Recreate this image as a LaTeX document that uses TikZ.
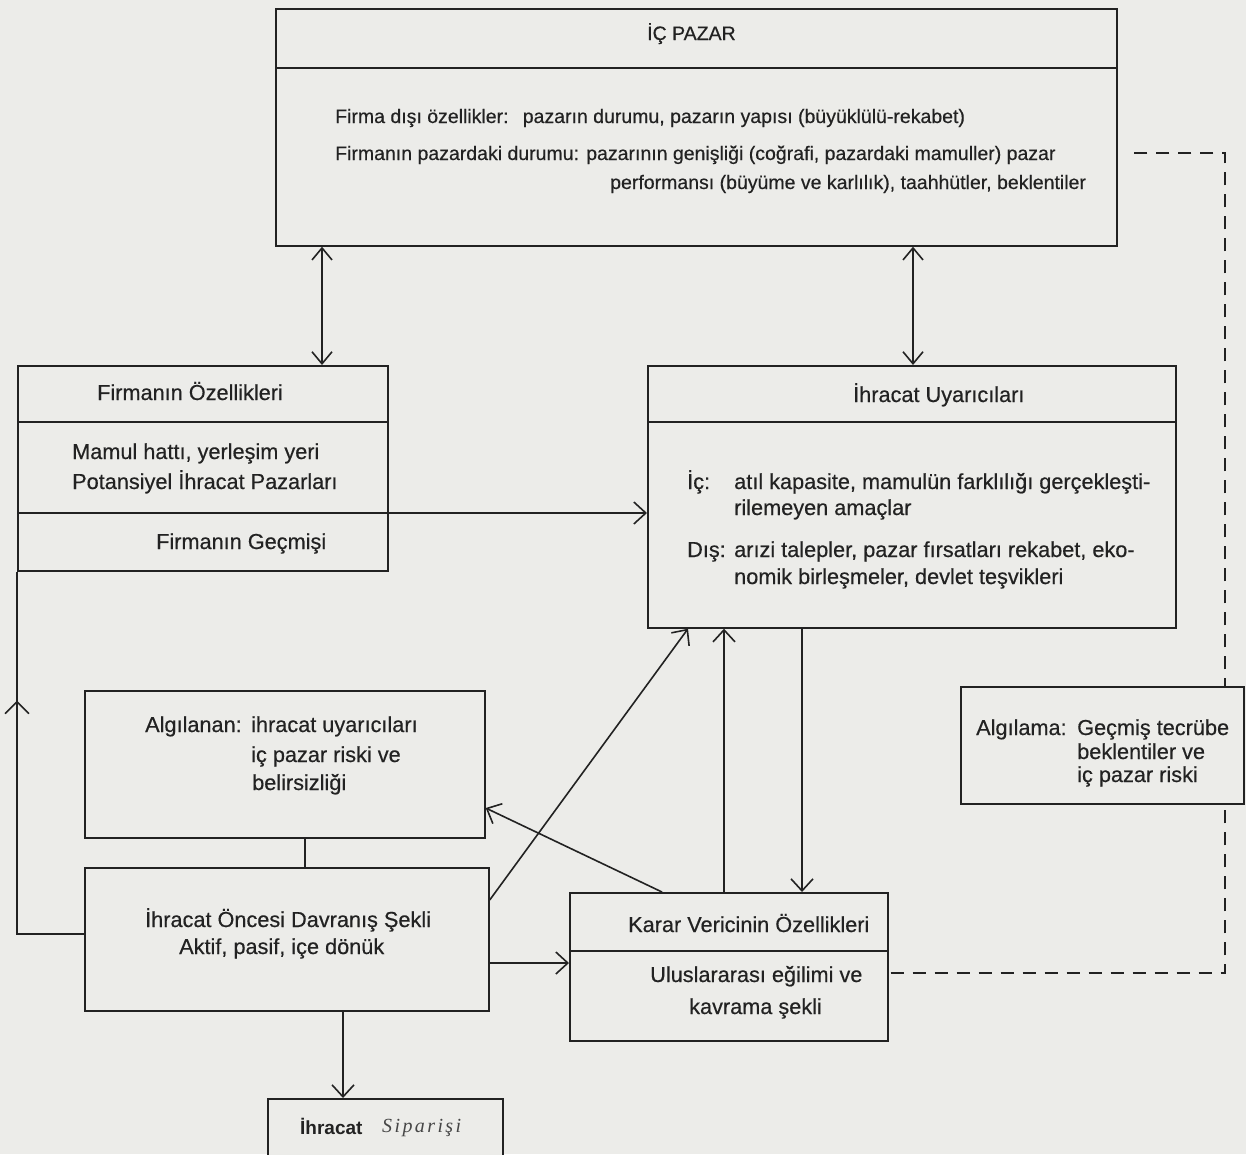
\documentclass[tikz,border=0pt]{standalone}
\usepackage{fontspec}
\setmainfont{Liberation Sans}
\newfontfamily\diagfont{Liberation Sans}[FakeBold=0.45]
\newfontfamily\handfont{Liberation Serif}[LetterSpace=12]
\usetikzlibrary{arrows.meta,calc,decorations.markings}
\definecolor{paper}{RGB}{236,236,233}
\definecolor{ink}{RGB}{34,34,34}
\definecolor{pencil}{RGB}{70,70,70}
\begin{document}
\begin{tikzpicture}[x=1pt,y=-1pt,
  box/.style={draw=ink, fill=paper, line width=1.7pt, inner sep=0pt, anchor=north west},
  txt/.style={anchor=base west, inner sep=0pt, text=ink, font=\diagfont\fontsize{21.7}{26}\selectfont},
  smalltxt/.style={txt, font=\diagfont\fontsize{19.5}{23}\selectfont},
  conn/.style={draw=ink, line width=1.6pt},
  tip/.style={-{Straight Barb[length=12pt,width=22pt,line width=1.6pt]}},
  dbl/.style={{Straight Barb[length=12pt,width=20pt,line width=1.6pt]}-{Straight Barb[length=12pt,width=20pt,line width=1.6pt]}},
  dashline/.style={conn, dash pattern=on 13pt off 9pt},
  midup/.style={postaction={decorate},
    decoration={markings, mark=at position 0.70 with {\arrow{Straight Barb[length=12pt,width=24pt,line width=1.6pt]}}}}
]
% page
\fill[paper] (0,0) rectangle (1246,1154);
\useasboundingbox (0,0) rectangle (1246,1154);

% helper lines for connector positions
\coordinate (xA) at (322,0);
\coordinate (xB) at (913,0);
\coordinate (xC) at (305,0);
\coordinate (xD) at (343,0);
\coordinate (xE) at (688,0);
\coordinate (xF) at (662,0);
\coordinate (xG) at (724,0);
\coordinate (xH) at (802,0);
\coordinate (xR) at (1225,0);
\coordinate (yF) at (0,934);
\coordinate (yG) at (0,513);
\coordinate (yH) at (0,963);
\coordinate (yI) at (0,900);
\coordinate (yJ) at (0,808);
\coordinate (yK) at (0,973);
\coordinate (yL) at (0,153);
\coordinate (dashEnd) at (1127,153);

% boxes
\node[box, minimum width=841pt, minimum height=237pt] (ic) at (275,8) {};
\node[box, minimum width=370pt, minimum height=205pt] (firm) at (17,365) {};
\node[box, minimum width=528pt, minimum height=262pt] (uyar) at (647,365) {};
\node[box, minimum width=400pt, minimum height=147pt] (algn) at (84,690) {};
\node[box, minimum width=404pt, minimum height=143pt] (once) at (84,867) {};
\node[box, minimum width=318pt, minimum height=148pt] (karar) at (569,892) {};
\node[box, minimum width=235pt, minimum height=80pt] (sip) at (267,1098) {};

% dividers
\draw[conn] ($(ic.north west)+(0,60)$) -- ($(ic.north east)+(0,60)$);
\draw[conn] ($(firm.north west)+(0,57)$) -- ($(firm.north east)+(0,57)$);
\draw[conn] ($(uyar.north west)+(0,57)$) -- ($(uyar.north east)+(0,57)$);
\draw[conn] ($(karar.north west)+(0,59)$) -- ($(karar.north east)+(0,59)$);

% connectors
\draw[conn, dbl] (ic.south -| xA) -- (firm.north -| xA);
\draw[conn, dbl] (ic.south -| xB) -- (uyar.north -| xB);
\draw[conn, tip] (firm.west |- yG) -- (uyar.west |- yG);
\draw[conn, midup] (once.west |- yF) -| (firm.south west);
\draw[conn] (algn.south -| xC) -- (once.north -| xC);
\draw[conn, tip] (once.east |- yH) -- (karar.west |- yH);
\draw[conn, tip] (once.south -| xD) -- (sip.north -| xD);
\draw[conn, tip] (once.east |- yI) -- (uyar.south -| xE);
\draw[conn, tip] (karar.north -| xF) -- (algn.east |- yJ);
\draw[conn, tip] (karar.north -| xG) -- (uyar.south -| xG);
\draw[conn, tip] (uyar.south -| xH) -- (karar.north -| xH);

% dashed feedback line
\draw[dashline] ($(karar.east |- yK)+(2,0)$) -- (xR |- yK) -- (xR |- yL) -- (dashEnd);

% box drawn over the dashed line
\node[box, minimum width=283pt, minimum height=117pt] (algm) at (960,686) {};

% texts: domestic market
\node[smalltxt] (t1) at (647,40) {İÇ PAZAR};
\node[smalltxt] (t2) at (335,123) {Firma dışı özellikler:\hspace{7pt} pazarın durumu, pazarın yapısı (büyüklülü-rekabet)};
\node[smalltxt] (t3) at (335,160) {Firmanın pazardaki durumu: pazarının genişliği (coğrafi, pazardaki mamuller) pazar};
\node[smalltxt] (t4) at (610,189) {performansı (büyüme ve karlılık), taahhütler, beklentiler};

% firm
\node[txt] (f1) at (97,400) {Firmanın Özellikleri};
\node[txt] (f2) at (72,459) {Mamul hattı, yerleşim yeri};
\node[txt] (f3) at (72,489) {Potansiyel İhracat Pazarları};
\node[txt] (f4) at (156,549) {Firmanın Geçmişi};

% export stimuli
\node[txt] (u1) at (853,402) {İhracat Uyarıcıları};
\node[txt] (u2) at (687,489) {İç:};
\node[txt] (u3) at (734,489) {atıl kapasite, mamulün farklılığı gerçekleşti-};
\node[txt] (u4) at (734,515) {rilemeyen amaçlar};
\node[txt] (u5) at (687,557) {Dış:};
\node[txt] (u6) at (734,557) {arızi talepler, pazar fırsatları rekabet, eko-};
\node[txt] (u7) at (734,584) {nomik birleşmeler, devlet teşvikleri};

% perceived
\node[txt] (a1) at (145,732) {Algılanan:};
\node[txt] (a2) at (251,732) {ihracat uyarıcıları};
\node[txt] (a3) at (251,762) {iç pazar riski ve};
\node[txt] (a4) at (252,790) {belirsizliği};

% pre-export behaviour
\node[txt] (o1) at (145,927) {İhracat Öncesi Davranış Şekli};
\node[txt] (o2) at (179,954) {Aktif, pasif, içe dönük};

% decision maker
\node[txt] (k1) at (628,932) {Karar Vericinin Özellikleri};
\node[txt] (k2) at (650,982) {Uluslararası eğilimi ve};
\node[txt] (k3) at (689,1014) {kavrama şekli};

% perception
\node[txt] (g1) at (976,735) {Algılama:};
\node[txt] (g2) at (1077,735) {Geçmiş tecrübe};
\node[txt] (g3) at (1077,759) {beklentiler ve};
\node[txt] (g4) at (1077,782) {iç pazar riski};

% export order
\node[txt, font=\fontsize{19}{22}\selectfont\bfseries] (s1) at (300,1134) {İhracat};
\node[anchor=base west, inner sep=0pt, text=pencil, font=\handfont\itshape\fontsize{20}{22}\selectfont] (s2) at (382,1132) {Siparişi};
\end{tikzpicture}
\end{document}
